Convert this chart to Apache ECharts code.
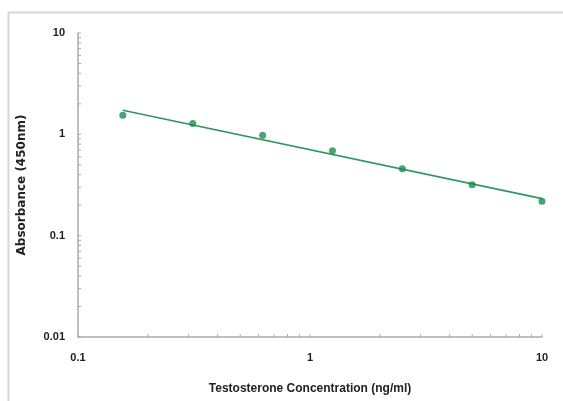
<!DOCTYPE html>
<html><head><meta charset="utf-8">
<script src="https://cdn.jsdelivr.net/npm/echarts@6/dist/echarts.min.js"></script>
<style>html,body{margin:0;padding:0;background:#fff}#c{width:563px;height:401px}</style>
</head><body><div id="c"></div>
<script>
var concentrations = [0.156, 0.3125, 0.625, 1.25, 2.5, 5, 10];
var absorbance = [1.54, 1.28, 0.98, 0.69, 0.457, 0.318, 0.219];
var trendX = [0.156, 10];
var trendY = [1.73, 0.232];
var xTickLabels = ['0.1', '1', '10'];
var yTickLabels = ['0.01', '0.1', '1', '10'];
var xTickValues = [0.1,0.2,0.3,0.4,0.5,0.6,0.7,0.8,0.9,1,2,3,4,5,6,7,8,9,10];
var yTickValues = [0.01,0.02,0.03,0.04,0.05,0.06,0.07,0.08,0.09,0.1,0.2,0.3,0.4,0.5,0.6,0.7,0.8,0.9,1,2,3,4,5,6,7,8,9,10];

function pickLabel(arr, v){
  for (var i=0;i<arr.length;i++){ if (Math.abs(parseFloat(arr[i])-v)/v < 1e-6) return arr[i]; }
  return '';
}
var chart = echarts.init(document.getElementById('c'));
var axisColor = '#aaaaaa';
var green = '#1c8c52';
chart.setOption({
  animation:false,
  backgroundColor:'#fff',
  graphic:[{type:'rect',shape:{x:8.5,y:12.5,width:600,height:400},style:{fill:'none',stroke:'#d8d8d8',lineWidth:2},silent:true}],
  grid:{left:78,right:21,top:33,bottom:64,containLabel:false},
  xAxis:{type:'log',logBase:10,min:0.1,max:10,
    name:'Testosterone Concentration (ng/ml)',nameLocation:'middle',nameGap:46,
    nameTextStyle:{fontFamily:'Liberation Sans',fontWeight:'bold',fontSize:12,color:'#222'},
    axisLine:{show:true,lineStyle:{color:axisColor,width:1.5}},
    axisTick:{show:false},splitLine:{show:false},
    axisLabel:{margin:15,fontFamily:'Liberation Sans',fontWeight:'bold',fontSize:11,color:'#222',
      formatter:function(v){return pickLabel(xTickLabels,v);}}
  },
  yAxis:{type:'log',logBase:10,min:0.01,max:10,
    name:'Absorbance (450nm)',nameLocation:'middle',nameGap:50,
    nameTextStyle:{fontFamily:'DejaVu Sans',fontWeight:'bold',fontSize:12,color:'#222'},
    axisLine:{show:true,lineStyle:{color:axisColor,width:1.5}},
    axisTick:{show:false},splitLine:{show:false},
    axisLabel:{margin:13,fontFamily:'Liberation Sans',fontWeight:'bold',fontSize:11,color:'#222',
      formatter:function(v){return pickLabel(yTickLabels,v);}}
  },
  series:[
    {type:'custom',clip:false,silent:true,z:1,
     data:xTickValues.map(function(v){return [v,0.01];}),
     renderItem:function(params,api){
       var p=api.coord([api.value(0),api.value(1)]);
       return {type:'line',shape:{x1:p[0],y1:p[1],x2:p[0],y2:p[1]-3},style:{stroke:axisColor,lineWidth:1}};
     }},
    {type:'custom',clip:false,silent:true,z:1,
     data:yTickValues.map(function(v){return [0.1,v];}),
     renderItem:function(params,api){
       var p=api.coord([api.value(0),api.value(1)]);
       return {type:'line',shape:{x1:p[0],y1:p[1],x2:p[0]+3,y2:p[1]},style:{stroke:axisColor,lineWidth:1}};
     }},
    {type:'line',data:trendX.map(function(x,i){return [x,trendY[i]];}),
     showSymbol:false,symbol:'none',lineStyle:{color:'#2f9862',width:1.7},z:3},
    {type:'scatter',data:concentrations.map(function(x,i){return [x,absorbance[i]];}),
     symbol:'circle',symbolSize:7,itemStyle:{color:green},z:4}
  ]
});
</script></body></html>
